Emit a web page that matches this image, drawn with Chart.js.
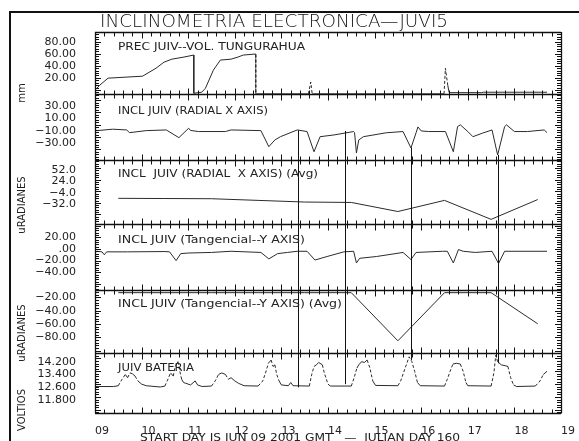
<!DOCTYPE html>
<html>
<head>
<meta charset="utf-8">
<script src="https://cdn.jsdelivr.net/npm/chart.js@4.4.0/dist/chart.umd.min.js"></script>
<style>
  html, body { margin: 0; padding: 0; background: #fff; overflow: hidden; }
  canvas { display: block; }
</style>
</head>
<body>
<canvas id="chart" width="579" height="441" style="width:579px;height:441px"></canvas>
<script>
// ---- data (days are fractional June days, 2001) ----
const dayTicks = [9, 10, 11, 12, 13, 14, 15, 16, 17, 18, 19];

// PREC JUIV--VOL. TUNGURAHUA (mm)
const precDays = [9.04, 9.1, 9.28, 10.02, 10.31, 10.48, 10.65, 10.91, 11.12, 11.12, 11.29, 11.37, 11.54, 11.69, 11.92, 12.07, 12.18, 12.45, 12.45, 13.58, 13.63, 13.66, 16.49, 16.52, 16.57, 16.6, 17.3, 17.33, 18.7];
const precVals = [2.8, 7.8, 19.5, 22.8, 36, 46, 51, 54.5, 57.8, -5.5, -3.8, 2.8, 32.8, 49.5, 51, 54.5, 57.8, 59.5, -6.5, -6.5, 13, -6.5, -6.5, 36, 7.8, -4.5, -4.5, -3.8, -3.8];

// INCL JUIV (RADIAL X AXIS)
const radDays = [9.04, 9.38, 9.68, 9.74, 10.1, 10.53, 10.8, 11.01, 11.05, 11.22, 11.8, 11.92, 12.56, 12.73, 12.86, 12.98, 13.34, 13.55, 13.7, 13.83, 14.13, 14.55, 14.57, 14.61, 14.66, 14.76, 15.25, 15.61, 15.78, 15.89, 15.93, 16.0, 16.16, 16.52, 16.69, 16.78, 16.84, 17.0, 17.11, 17.31, 17.52, 17.64, 17.79, 17.83, 18.0, 18.28, 18.64, 18.7];
const radVals = [-9.5, -7.2, -8.4, -12.8, -9.5, -8.4, -20.9, -5.6, -9.2, -11, -11, -8.4, -9.5, -35.5, -24.6, -19.3, -8.4, -11, -43.7, -19.3, -16.5, -11, -12.8, -45.8, -24.6, -19.3, -13, -11, -37.6, -13, -3.5, -10, -11, -11, -43.7, -3, -0.2, -11, -19.3, -13.7, -8.4, -49, -3, -0.2, -11, -11, -8.4, -12.8];

// daily averages
const avgDays = [9.5, 10.5, 11.5, 12.5, 13.5, 14.5, 15.5, 16.5, 17.5, 18.5];
const radAvgVals = [-17, -17.5, -18, -22, -26, -27, -49, -22, -68, -20];

// INCL JUIV (Tangencial--Y AXIS)
const tanDays = [9.04, 9.15, 9.2, 9.25, 9.7, 10.5, 10.6, 10.74, 10.84, 11.0, 11.5, 11.92, 12.56, 12.73, 12.92, 13.13, 13.34, 13.55, 13.72, 13.98, 14.34, 14.55, 14.61, 14.68, 15.04, 15.61, 15.78, 15.89, 16.46, 16.56, 16.69, 16.8, 16.9, 17.16, 17.52, 17.66, 17.79, 18.7];
const tanVals = [-4, -5, -10, -5, -5, -4.5, -5, -20, -8, -7, -6, -4, -6, -17, -8, -6, -4, -4, -19, -13, -5, -4, -24, -16, -13, -6, -18, -6, -4, -4, -24, -1, -4, -6, -4, -25, -4, -4];
const tanAvgVals = [-13, -13, -13, -13, -13, -13, -85, -13, -13, -59.5];

// JUIV BATERIA (voltios)
const batDays = [9.0, 9.4, 9.5, 9.58, 9.65, 9.7, 9.75, 9.8, 9.86, 9.92, 10.0, 10.1, 10.4, 10.5, 10.55, 10.62, 10.68, 10.72, 10.78, 10.82, 10.86, 10.9, 10.95, 11.05, 11.15, 11.2, 11.3, 11.5, 11.58, 11.65, 11.72, 11.8, 11.86, 11.92, 12.0, 12.08, 12.2, 12.5, 12.6, 12.66, 12.72, 12.78, 12.82, 12.86, 12.9, 12.95, 13.0, 13.15, 13.2, 13.25, 13.6, 13.65, 13.7, 13.75, 13.8, 13.88, 13.92, 14.0, 14.05, 14.5, 14.56, 14.62, 14.66, 14.72, 14.78, 14.84, 14.9, 14.96, 15.02, 15.5, 15.56, 15.62, 15.68, 15.74, 15.8, 15.86, 15.92, 15.98, 16.5, 16.56, 16.62, 16.68, 16.76, 16.84, 16.9, 16.96, 17.0, 17.5, 17.56, 17.6, 17.64, 17.72, 17.8, 17.86, 17.92, 17.98, 18.05, 18.45, 18.55, 18.62, 18.7];
const batVals = [12.65, 12.65, 12.7, 13.1, 13.4, 13.2, 13.5, 13.45, 13.3, 13.0, 12.8, 12.7, 12.62, 12.68, 13.0, 13.5, 13.3, 13.9, 14.2, 13.6, 13.1, 12.9, 12.85, 12.75, 13.0, 12.75, 12.65, 12.68, 13.0, 13.4, 13.5, 13.4, 13.1, 13.2, 13.0, 12.85, 12.7, 12.68, 13.0, 13.5, 14.1, 14.3, 13.9, 14.0, 13.4, 13.0, 12.75, 12.7, 12.9, 12.7, 12.68, 13.4, 13.9, 14.0, 14.15, 14.0, 13.5, 12.8, 12.68, 12.68, 13.2, 13.8, 14.0, 14.2, 14.15, 14.3, 13.8, 13.0, 12.72, 12.7, 13.0, 13.5, 14.0, 14.5, 14.2, 13.6, 12.9, 12.7, 12.68, 13.1, 13.6, 14.05, 14.1, 14.05, 13.6, 12.9, 12.7, 12.68, 13.5, 14.6, 14.2, 14.0, 13.95, 13.9, 13.2, 12.75, 12.65, 12.68, 13.0, 13.4, 13.6];

// vertical connectors that run from the radial panel down to the battery panel
const gapDays = [13.36, 14.36, 15.78, 17.64];
const gapTopVals = [-9, -10, -37, -49];
const gapBottomVals = [12.6, 12.8, 14.3, 14.1];

// y tick values / labels per panel
const precTicks = [20, 40, 60, 80];
const precTickLabels = ['20.00', '40.00', '60.00', '80.00'];
const radTicks = [-30, -10, 10, 30];
const radTickLabels = ['\u221230.00', '\u221210.00', '10.00', '30.00'];
const radAvgTicks = [-32, -4, 24, 52];
const radAvgTickLabels = ['\u221232.0', '\u22124.0', '24.0', '52.0'];
const tanTicks = [-40, -20, 0, 20];
const tanTickLabels = ['\u221240.00', '\u221220.00', '.00', '20.00'];
const tanAvgTicks = [-80, -60, -40, -20];
const tanAvgTickLabels = ['\u221280.00', '\u221260.00', '\u221240.00', '\u221220.00'];
const batTicks = [11.8, 12.6, 13.4, 14.2];
const batTickLabels = ['11.800', '12.600', '13.400', '14.200'];

const panelTitles = ['PREC JUIV--VOL. TUNGURAHUA', 'INCL JUIV (RADIAL X AXIS)', 'INCL  JUIV (RADIAL  X AXIS) (Avg)', 'INCL JUIV (Tangencial--Y AXIS)', 'INCL JUIV (Tangencial--Y AXIS) (Avg)', 'JUIV BATERIA'];
const unitTitles = ['mm', 'uRADIANES', 'uRADIANES', 'VOLTIOS'];
const chartTitle = 'INCLINOMETRIA ELECTRONICA\u2014JUVI5';
const footNote = 'START DAY IS JUN 09 2001 GMT   \u2014  JULIAN DAY 160';

// ---- layout helpers ----
const panelIds = ['p1', 'p2', 'p3', 'p4', 'p5', 'p6'];
const titleOffsets = [15, 17, 14, 17, 15, 16];
const titleWidths = [187, 150, 200, 187, 224, 76];
const unitCenters = [93, 205, 333, 410];
const minorSteps = [4, 4, 5.6, 4, 4, 0.16];
const majorSteps = [20, 20, 28, 20, 20, 0.8];
const LINE = '#2b2b2b';

const pts = (xs, ys) => xs.map((x, i) => ({ x, y: ys[i] }));

function drawFit(ctx, text, x, y, width, align) {
  const w = ctx.measureText(text).width;
  const sx = width / w;
  ctx.save();
  ctx.translate(align === 'center' ? x - width / 2 : x, y);
  ctx.scale(sx, 1);
  ctx.textAlign = 'left';
  ctx.fillText(text, 0, 0);
  ctx.restore();
}

function yScale(ticks, labels, min, max, weight) {
  return {
    type: 'linear',
    position: 'left',
    stack: 'panels',
    stackWeight: weight,
    min: min,
    max: max,
    grid: { display: false },
    border: { display: false },
    afterBuildTicks: (s) => { s.ticks = ticks.map((v) => ({ value: v })); },
    afterFit: (s) => { s.width = 95; },
    ticks: {
      autoSkip: false,
      padding: 11,
      color: '#222',
      font: { family: 'DejaVu Sans', size: 11 },
      callback: (v) => labels[ticks.indexOf(v)],
    },
  };
}

// frame, panel borders, cross ticks and text
const framePlugin = {
  id: 'frame',
  afterDatasetsDraw(chart) {
    const ctx = chart.ctx;
    const area = chart.chartArea;
    const xs = chart.scales.x;
    const L = area.left, R = area.right;
    const seg = (x1, y1, x2, y2) => { ctx.beginPath(); ctx.moveTo(x1, y1); ctx.lineTo(x2, y2); ctx.stroke(); };

    ctx.save();
    ctx.strokeStyle = '#111';
    ctx.lineWidth = 1;

    // connectors between panels
    gapDays.forEach((d, i) => {
      const x = Math.round(xs.getPixelForValue(d)) + 0.5;
      seg(x, chart.scales.p2.getPixelForValue(gapTopVals[i]), x, chart.scales.p6.getPixelForValue(gapBottomVals[i]));
    });

    // y minor ticks on both sides
    panelIds.forEach((id, i) => {
      const s = chart.scales[id];
      const step = minorSteps[i];
      for (let k = Math.ceil(s.min / step); k * step <= s.max; k++) {
        const v = k * step;
        const y = Math.round(s.getPixelForValue(v)) + 0.5;
        const major = Math.abs(v / majorSteps[i] - Math.round(v / majorSteps[i])) < 1e-6;
        const len = major ? 6 : 4;
        seg(L, y, L + len, y);
        seg(R - len, y, R, y);
      }
    });

    // horizontal borders with x ticks
    const ys = [area.top].concat(panelIds.map((id) => chart.scales[id].bottom));
    ys.forEach((yb, j) => {
      const y = Math.round(yb) + 0.5;
      ctx.lineWidth = 1.3;
      seg(L, y, R, y);
      ctx.lineWidth = 1;
      for (let k = 0; k <= 50; k++) {
        const d = 9 + k * 0.2;
        const x = Math.round(xs.getPixelForValue(d)) + 0.5;
        const major = k % 5 === 0;
        const len = major ? 6 : 4;
        const up = j === 0 ? 0 : len;
        const down = j === ys.length - 1 ? 0 : len;
        seg(x, y - up, x, y + down);
      }
    });
    ctx.lineWidth = 1.3;
    seg(Math.round(L) + 0.5, area.top, Math.round(L) + 0.5, area.bottom);
    seg(Math.round(R) + 0.5, area.top, Math.round(R) + 0.5, area.bottom);

    // outer frame
    ctx.lineWidth = 2;
    ctx.beginPath();
    ctx.moveTo(10, 441);
    ctx.lineTo(10, 12);
    ctx.lineTo(579, 12);
    ctx.stroke();

    // texts
    ctx.fillStyle = '#111';
    ctx.textBaseline = 'middle';
    ctx.font = '300 18px "DejaVu Sans"';
    drawFit(ctx, chartTitle, 274, 22, 348, 'center');

    ctx.fillStyle = '#222';
    ctx.font = '10px "DejaVu Sans"';
    panelIds.forEach((id, i) => {
      const s = chart.scales[id];
      drawFit(ctx, panelTitles[i], L + 23, s.top + titleOffsets[i], titleWidths[i], 'left');
    });

    ctx.font = '11px "DejaVu Sans"';
    drawFit(ctx, footNote, 300, 438, 320, 'center');

    ctx.font = '10px "DejaVu Sans"';
    unitTitles.forEach((t, i) => {
      ctx.save();
      ctx.translate(22, unitCenters[i]);
      ctx.rotate(-Math.PI / 2);
      ctx.textAlign = 'center';
      ctx.fillText(t, 0, 0);
      ctx.restore();
    });
    ctx.restore();
  },
};

const lineSet = (data, axis, dash) => ({
  data: data,
  yAxisID: axis,
  borderColor: LINE,
  borderWidth: 1,
  pointRadius: 0,
  tension: 0,
  fill: false,
  segment: dash ? { borderDash: dash } : undefined,
});

new Chart(document.getElementById('chart'), {
  type: 'line',
  data: {
    datasets: [
      lineSet(pts(precDays, precVals), 'p1', (c) => (c.p0.parsed.x >= 12 && Math.abs(c.p1.parsed.y - c.p0.parsed.y) > 15 ? [3, 2] : undefined)),
      lineSet(pts(radDays, radVals), 'p2'),
      lineSet(pts(avgDays, radAvgVals), 'p3'),
      lineSet(pts(tanDays, tanVals), 'p4'),
      lineSet(pts(avgDays, tanAvgVals), 'p5'),
      lineSet(pts(batDays, batVals), 'p6', (c) => (Math.abs(c.p1.parsed.y - c.p0.parsed.y) > 0.3 ? [3, 2] : undefined)),
    ],
  },
  options: {
    responsive: false,
    animation: false,
    devicePixelRatio: 1,
    layout: { padding: { top: 32, right: 12, left: 0, bottom: 0 } },
    plugins: { legend: { display: false }, tooltip: { enabled: false } },
    scales: {
      x: {
        type: 'linear',
        position: 'bottom',
        min: 9,
        max: 19,
        grid: { display: false },
        border: { display: false },
        afterBuildTicks: (s) => { s.ticks = dayTicks.map((v) => ({ value: v })); },
        afterFit: (s) => { s.height = 28; },
        ticks: {
          align: 'start',
          padding: 4,
          maxRotation: 0,
          autoSkip: false,
          color: '#222',
          font: { family: 'DejaVu Sans', size: 11 },
          callback: (v) => String(v).padStart(2, '0'),
        },
      },
      // bottom panel first: stacked left axes are placed from the last one down
      p6: yScale(batTicks, batTickLabels, 11.0, 14.75, 60),
      p5: yScale(tanAvgTicks, tanAvgTickLabels, -103, -8.5, 63),
      p4: yScale(tanTicks, tanTickLabels, -69.7, 43.5, 66),
      p3: yScale(radAvgTicks, radAvgTickLabels, -78, 75, 63),
      p2: yScale(radTicks, radTickLabels, -57.6, 49.5, 66),
      p1: yScale(precTicks, precTickLabels, -7, 96, 62),
    },
  },
  plugins: [framePlugin],
});
</script>
</body>
</html>
